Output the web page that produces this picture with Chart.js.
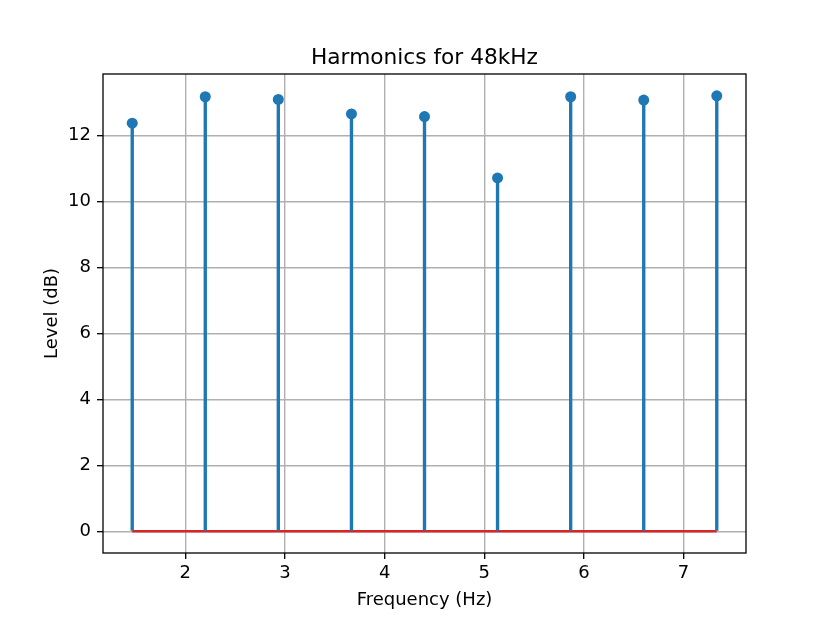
<!DOCTYPE html>
<html>
<head>
<meta charset="utf-8">
<script src="https://cdn.jsdelivr.net/npm/chart.js@4.4.1/dist/chart.umd.min.js"></script>
<style>
  html, body { margin: 0; padding: 0; background: #fff; }
  #wrap { width: 830px; height: 623px; }
</style>
</head>
<body>
<div id="wrap"><canvas id="chart" width="830" height="623"></canvas></div>
<script>
// Chart data
var frequencies = [1.467, 2.2, 2.933, 3.667, 4.4, 5.133, 5.867, 6.6, 7.333];
var levels = [12.37, 13.17, 13.09, 12.65, 12.57, 10.71, 13.17, 13.07, 13.20];
var xTicks = [2, 3, 4, 5, 6, 7];
var yTicks = [0, 2, 4, 6, 8, 10, 12];
var chartTitle = 'Harmonics for 48kHz';

var stemColor = '#1f77b4';
var baseColor = '#d62728';
var font = 'DejaVu Sans';

// Axis limits with matplotlib-like 5% margins
var xMin = Math.min.apply(null, frequencies);
var xMax = Math.max.apply(null, frequencies);
var yTop = Math.max.apply(null, levels);
var xPad = (xMax - xMin) * 0.05;
var yPad = yTop * 0.05;

var points = frequencies.map(function (f, i) { return { x: f, y: levels[i] }; });

// Frame and title drawn relative to the plot area
var framePlugin = {
  id: 'frame',
  afterDraw: function (chart) {
    var a = chart.chartArea, ctx = chart.ctx;
    ctx.save();
    ctx.strokeStyle = '#000';
    ctx.lineWidth = 1.3;
    ctx.strokeRect(a.left, a.top, a.right - a.left, a.bottom - a.top);
    ctx.fillStyle = '#000';
    ctx.font = '21.7px "' + font + '"';
    ctx.textAlign = 'center';
    ctx.textBaseline = 'alphabetic';
    ctx.fillText(chartTitle, (a.left + a.right) / 2, a.top - 10);
    ctx.restore();
  }
};

var gridOpts = { color: '#b0b0b0', lineWidth: 1.4, offset: false, tickLength: 6, tickColor: '#000', tickWidth: 1.3 };

var ctx = document.getElementById('chart').getContext('2d');
new Chart(ctx, {
  type: 'bar',
  data: {
    datasets: [
      {
        type: 'line',
        label: 'baseline',
        data: [{ x: xMin, y: 0 }, { x: xMax, y: 0 }],
        borderColor: baseColor,
        borderWidth: 2.7,
        pointRadius: 0,
        order: 2
      },
      {
        type: 'bar',
        label: 'stems',
        data: points,
        backgroundColor: stemColor,
        barThickness: 2.7,
        order: 1
      },
      {
        type: 'line',
        label: 'markers',
        data: points,
        showLine: false,
        pointRadius: 5.5,
        pointBackgroundColor: stemColor,
        pointBorderWidth: 0,
        order: 0
      }
    ]
  },
  options: {
    responsive: false,
    animation: false,
    layout: { padding: { left: 0, right: 84, top: 74, bottom: 0 } },
    plugins: {
      legend: { display: false },
      tooltip: { enabled: false },
      title: { display: false }
    },
    scales: {
      x: {
        type: 'linear',
        min: xMin - xPad,
        max: xMax + xPad,
        offset: false,
        afterBuildTicks: function (scale) {
          scale.ticks = xTicks.map(function (v) { return { value: v }; });
        },
        afterFit: function (scale) { scale.height = 70; },
        grid: gridOpts,
        border: { display: false },
        ticks: { color: '#000', padding: 4, maxRotation: 0, font: { family: font, size: 18 } },
        title: {
          display: true,
          text: 'Frequency (Hz)',
          color: '#000',
          font: { family: font, size: 18 },
          padding: { top: 0, bottom: 12 }
        }
      },
      y: {
        type: 'linear',
        min: -yPad,
        max: yTop + yPad,
        afterBuildTicks: function (scale) {
          scale.ticks = yTicks.map(function (v) { return { value: v }; });
        },
        afterFit: function (scale) { scale.width = 103; },
        grid: gridOpts,
        border: { display: false },
        ticks: { color: '#000', padding: 6, font: { family: font, size: 18 } },
        title: {
          display: true,
          text: 'Level (dB)',
          color: '#000',
          font: { family: font, size: 18 },
          padding: { top: 42, bottom: 0 }
        }
      }
    }
  },
  plugins: [framePlugin]
});
</script>
</body>
</html>
